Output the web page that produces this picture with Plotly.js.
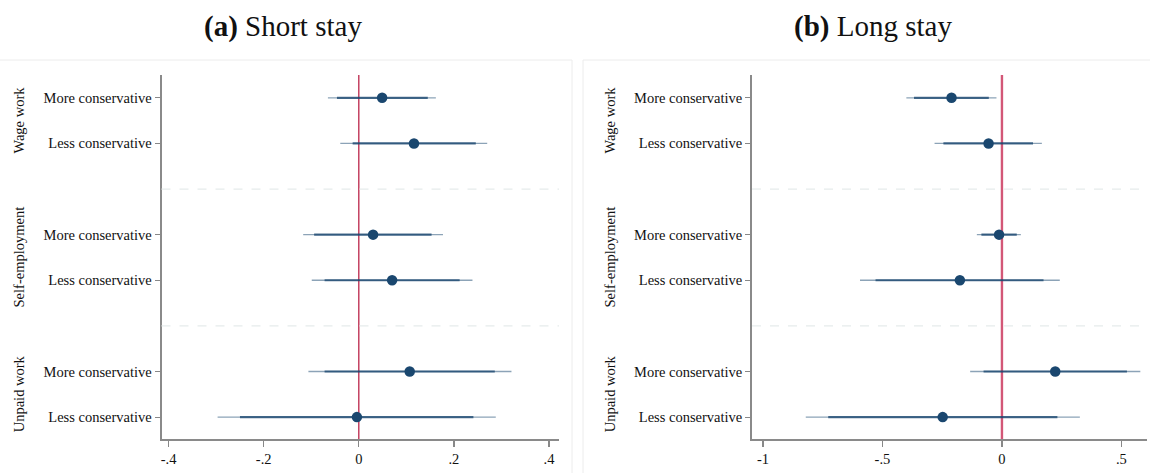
<!DOCTYPE html>
<html>
<head>
<meta charset="utf-8">
<script src="https://cdn.plot.ly/plotly-3.0.1.min.js"></script>
<style>html,body{margin:0;padding:0;background:#fff;}#chart{width:1150px;height:473px;}</style>
</head>
<body>
<div id="chart"></div>
<script>
// Rows, top to bottom
const groups = ["Wage work", "Self-employment", "Unpaid work"];
const rowLabels = ["More conservative", "Less conservative",
                   "More conservative", "Less conservative",
                   "More conservative", "Less conservative"];
const rowGroup = [0, 0, 1, 1, 2, 2];

// (a) Short stay
const shortEst  = [0.049, 0.116, 0.030, 0.070, 0.107, -0.004];
const shortLo95 = [-0.065, -0.039, -0.117, -0.099, -0.106, -0.297];
const shortHi95 = [0.162, 0.270, 0.177, 0.239, 0.321, 0.288];
const shortLo90 = [-0.046, -0.013, -0.094, -0.072, -0.072, -0.250];
const shortHi90 = [0.145, 0.246, 0.153, 0.212, 0.286, 0.241];

// (b) Long stay
const longEst  = [-0.211, -0.056, -0.012, -0.176, 0.223, -0.248];
const longLo95 = [-0.400, -0.282, -0.105, -0.594, -0.133, -0.821];
const longHi95 = [-0.023, 0.167, 0.079, 0.242, 0.579, 0.326];
const longLo90 = [-0.368, -0.245, -0.086, -0.529, -0.077, -0.727];
const longHi90 = [-0.055, 0.130, 0.062, 0.174, 0.523, 0.232];

const shortTicks = [-0.4, -0.2, 0, 0.2, 0.4];
const shortTickText = ["-.4", "-.2", "0", ".2", ".4"];
const longTicks = [-1, -0.5, 0, 0.5];
const longTickText = ["-1", "-.5", "0", ".5"];

// layout positions (y), group gap of one slot
const ypos = rowGroup.map((g, i) => (2 - g) * 3 + (i % 2 === 0 ? 1 : 0));

const W = 1150, H = 473;
const px = v => v / W;
const py = v => (H - v) / H;

const navy = "#1a476f";
const font = "Liberation Serif, Times New Roman, serif";

function segs(lo, hi) {
  const x = [], y = [];
  lo.forEach((v, i) => { x.push(v, hi[i], null); y.push(ypos[i], ypos[i], null); });
  return {x, y};
}

function panelTraces(est, lo95, hi95, lo90, hi90, xa, ya) {
  const s95 = segs(lo95, hi95), s90 = segs(lo90, hi90);
  return [
    {type: "scatter", mode: "lines", x: s95.x, y: s95.y, xaxis: xa, yaxis: ya,
     line: {color: "rgba(26,71,111,0.5)", width: 1.3}, hoverinfo: "skip", showlegend: false},
    {type: "scatter", mode: "lines", x: s90.x, y: s90.y, xaxis: xa, yaxis: ya,
     line: {color: "rgba(26,71,111,0.78)", width: 2.2}, hoverinfo: "skip", showlegend: false},
    {type: "scatter", mode: "markers", x: est, y: ypos, xaxis: xa, yaxis: ya,
     marker: {color: navy, size: 10.5}, showlegend: false}
  ];
}

const data = [
  ...panelTraces(shortEst, shortLo95, shortHi95, shortLo90, shortHi90, "x", "y"),
  ...panelTraces(longEst, longLo95, longHi95, longLo90, longHi90, "x2", "y2")
];

const yRange = [-0.48, 7.5];
function yAxis() {
  return {
    domain: [py(439), py(75)], range: yRange, showgrid: false, zeroline: false,
    tickvals: ypos, ticktext: rowLabels, ticks: "outside", ticklen: 5, tickwidth: 1.2,
    tickcolor: "#888", showline: true, linecolor: "#8a8a8a", linewidth: 1.8,
    tickfont: {family: font, size: 14.5, color: "#111"}, fixedrange: true
  };
}
function xAxis(domain, range, tv, tt, anchor) {
  return {
    domain: domain, range: range, anchor: anchor, showgrid: false, zeroline: false,
    tickvals: tv, ticktext: tt, ticks: "outside", ticklen: 6, tickwidth: 1.2,
    tickcolor: "#888", showline: true, linecolor: "#8a8a8a", linewidth: 1.8,
    tickfont: {family: font, size: 14.5, color: "#111"}, fixedrange: true
  };
}

const shapes = [
  // panel frames
  {type: "line", xref: "paper", yref: "paper", x0: 0, x1: px(572), y0: py(60), y1: py(60), line: {color: "#ececec", width: 1}},
  {type: "line", xref: "paper", yref: "paper", x0: px(572), x1: px(572), y0: py(60), y1: 0, line: {color: "#ececec", width: 1}},
  {type: "line", xref: "paper", yref: "paper", x0: px(583), x1: 1, y0: py(60), y1: py(60), line: {color: "#ececec", width: 1}},
  {type: "line", xref: "paper", yref: "paper", x0: px(583), x1: px(583), y0: py(60), y1: 0, line: {color: "#ececec", width: 1}},
  // group separators
  ...[2, 5].map(v => ({type: "line", xref: "x domain", yref: "y", x0: 0, x1: 1, y0: v, y1: v,
    line: {color: "#e6ecec", width: 1.2, dash: "dash"}})),
  ...[2, 5].map(v => ({type: "line", xref: "x2 domain", yref: "y2", x0: 0, x1: 1, y0: v, y1: v,
    line: {color: "#e6ecec", width: 1.2, dash: "dash"}})),
  // zero reference lines
  {type: "line", xref: "x", yref: "y domain", x0: 0, x1: 0, y0: 0, y1: 1, line: {color: "#b5123a", width: 1.2}, layer: "below"},
  {type: "line", xref: "x2", yref: "y2 domain", x0: 0, x1: 0, y0: 0, y1: 1, line: {color: "#d35777", width: 2.4}, layer: "below"}
];

const groupCenters = [0, 1, 2].map(g => (2 - g) * 3 + 0.5);
const annotations = [];
groups.forEach((gname, g) => {
  annotations.push({text: gname, xref: "paper", yref: "y", x: px(19), y: groupCenters[g],
    textangle: -90, showarrow: false, font: {family: font, size: 14.5, color: "#111"}, xanchor: "center", yanchor: "middle"});
  annotations.push({text: gname, xref: "paper", yref: "y2", x: px(610), y: groupCenters[g],
    textangle: -90, showarrow: false, font: {family: font, size: 14.5, color: "#111"}, xanchor: "center", yanchor: "middle"});
});
annotations.push({text: "<b>(a)</b> Short stay", xref: "paper", yref: "paper", x: px(283), y: py(27),
  showarrow: false, font: {family: font, size: 29, color: "#111"}, xanchor: "center", yanchor: "middle"});
annotations.push({text: "<b>(b)</b> Long stay", xref: "paper", yref: "paper", x: px(873), y: py(27),
  showarrow: false, font: {family: font, size: 29, color: "#111"}, xanchor: "center", yanchor: "middle"});

const layout = {
  width: W, height: H, margin: {l: 0, r: 0, t: 0, b: 0},
  paper_bgcolor: "#fff", plot_bgcolor: "#fff", showlegend: false,
  xaxis: xAxis([px(161.5), px(559)], [-0.415, 0.421], shortTicks, shortTickText, "y"),
  yaxis: Object.assign(yAxis(), {anchor: "x"}),
  xaxis2: xAxis([px(752), px(1147)], [-1.046, 0.607], longTicks, longTickText, "y2"),
  yaxis2: Object.assign(yAxis(), {anchor: "x2"}),
  shapes: shapes, annotations: annotations
};

Plotly.newPlot("chart", data, layout, {displayModeBar: false, staticPlot: true});
</script>
</body>
</html>
